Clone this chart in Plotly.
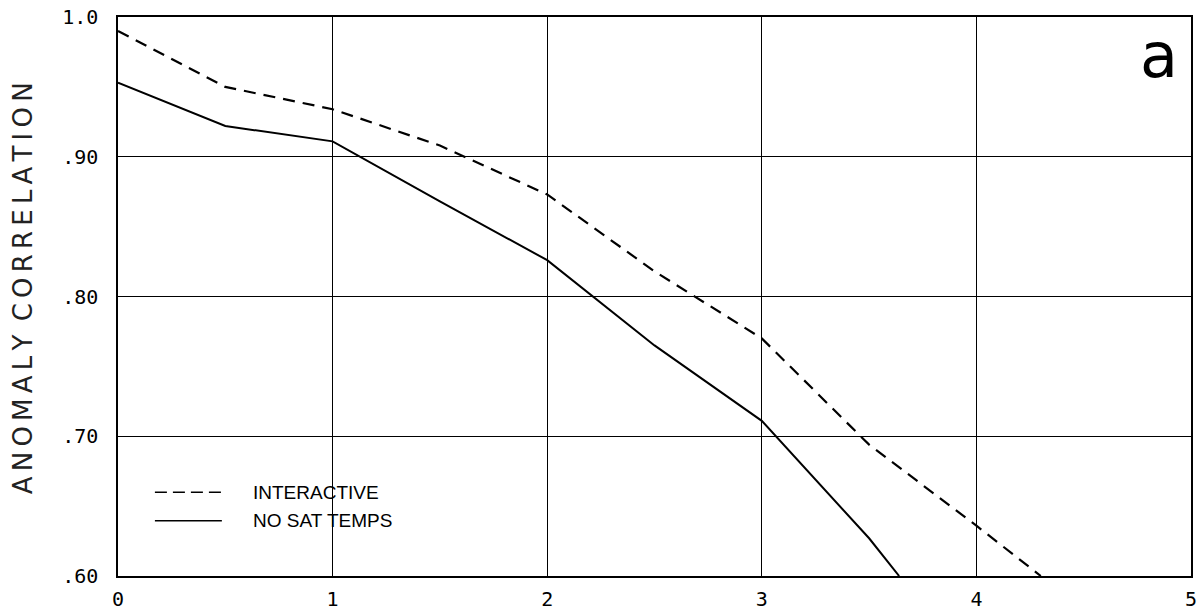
import plotly.graph_objects as go

# Data
x_interactive = [0, 0.5, 1.0, 1.5, 2.0, 2.5, 3.0, 3.5, 4.0, 4.30]
y_interactive = [0.990, 0.950, 0.934, 0.908, 0.873, 0.818, 0.770, 0.694, 0.636, 0.600]
x_nosat = [0, 0.5, 1.0, 1.5, 2.0, 2.5, 3.0, 3.5, 3.64]
y_nosat = [0.953, 0.922, 0.911, 0.868, 0.826, 0.765, 0.711, 0.627, 0.600]

x_ticks = [0, 1, 2, 3, 4, 5]
x_ticklabels = ["0", "1", "2", "3", "4", "5"]
y_ticks = [0.60, 0.70, 0.80, 0.90, 1.00]
y_ticklabels = [".60", ".70", ".80", ".90", "1.0"]

TS = "\u2009"  # thin space for letter spacing
ylabel = TS.join("ANOMALY") + " " + TS + TS.join("CORRELATION")

fig = go.Figure()
fig.add_trace(go.Scatter(x=x_interactive, y=y_interactive, mode="lines",
                         name="INTERACTIVE",
                         line=dict(color="black", width=2.2, dash="12px,8px")))
fig.add_trace(go.Scatter(x=x_nosat, y=y_nosat, mode="lines",
                         name="NO SAT TEMPS",
                         line=dict(color="black", width=2)))

# legend drawn manually
leg_x0, leg_x1 = 0.172, 0.484
fig.add_shape(type="line", xref="x", yref="y", x0=leg_x0, x1=leg_x1, y0=0.6600, y1=0.6600,
              line=dict(color="black", width=1.5, dash="12px,6px"))
fig.add_shape(type="line", xref="x", yref="y", x0=leg_x0, x1=leg_x1, y0=0.6395, y1=0.6395,
              line=dict(color="black", width=1.5))
fig.add_annotation(x=0.62, y=0.6600, xref="x", yref="y", text="INTERACTIVE", showarrow=False,
                   xanchor="left", yanchor="middle",
                   font=dict(family="Liberation Sans", size=19, color="black"))
fig.add_annotation(x=0.62, y=0.6395, xref="x", yref="y", text="NO SAT TEMPS", showarrow=False,
                   xanchor="left", yanchor="middle",
                   font=dict(family="Liberation Sans", size=19, color="black"))
fig.add_annotation(x=0.99, y=0.932, xref="paper", yref="paper", text="a", showarrow=False,
                   xanchor="right", yanchor="middle",
                   font=dict(family="DejaVu Sans", size=62, color="black"))
# y-axis title
fig.add_annotation(x=-0.0885, y=0.515, xref="paper", yref="paper", text=ylabel,
                   showarrow=False, textangle=-90, xanchor="center", yanchor="middle",
                   font=dict(family="DejaVu Sans", size=26, color="#222"))

fig.update_layout(
    width=1203, height=612,
    margin=dict(l=118, r=12, t=17, b=36, autoexpand=False),
    paper_bgcolor="white", plot_bgcolor="white",
    showlegend=False,
)
fig.update_xaxes(range=[0, 5], tickvals=x_ticks, ticktext=x_ticklabels,
                 showgrid=True, gridcolor="black", gridwidth=1,
                 showline=True, linecolor="black", linewidth=1.5, mirror=True,
                 ticks="", zeroline=False, ticklabelstandoff=4, automargin=False,
                 tickfont=dict(family="DejaVu Sans Mono", size=20, color="black"))
fig.update_yaxes(range=[0.60, 1.0], tickvals=y_ticks, ticktext=y_ticklabels,
                 showgrid=True, gridcolor="black", gridwidth=1,
                 showline=True, linecolor="black", linewidth=1.5, mirror=True,
                 ticks="", zeroline=False, ticklabelstandoff=14, automargin=False,
                 tickfont=dict(family="DejaVu Sans Mono", size=20, color="black"))

fig.write_html("out.html")
